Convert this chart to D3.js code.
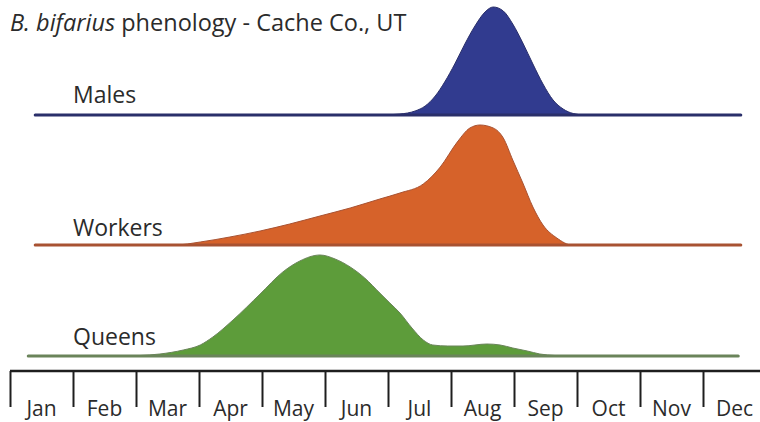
<!DOCTYPE html>
<html>
<head>
<meta charset="utf-8">
<script src="https://cdn.jsdelivr.net/npm/d3@7"></script>
<style>
  html, body { margin: 0; padding: 0; background: #fff; }
  svg { display: block; }
  text { font-family: "Open Sans", "Noto Sans", sans-serif; fill: #2b2b2b; }
</style>
</head>
<body>
<svg id="chart" width="760" height="422"></svg>
<script>
// Month labels along the bottom axis
const months = ["Jan", "Feb", "Mar", "Apr", "May", "Jun", "Jul", "Aug", "Sep", "Oct", "Nov", "Dec"];

// Caste names, top to bottom
const castes = ["Males", "Workers", "Queens"];

// Activity curves: time in months since 1 Jan, relative abundance
const malesMonth   = [0.40, 5.87, 6.19, 6.43, 6.59, 6.75, 6.90, 7.06, 7.22, 7.38, 7.54, 7.67, 7.83, 7.98, 8.14, 8.30, 8.46, 8.62, 8.78, 8.94, 9.13, 11.60];
const malesValue   = [0,    0,    1,    4,    9,    19,   33,   51,   71,   89,   103,  108,  104,  91,   72,   51,   31,   15,   6,    1.5,  0,    0];

const workersMonth = [0.40, 2.62, 3.02, 3.49, 3.97, 4.44, 4.92, 5.40, 5.87, 6.19, 6.56, 6.83, 7.10, 7.30, 7.46, 7.67, 7.83, 7.98, 8.14, 8.30, 8.46, 8.68, 8.92, 11.60];
const workersValue = [0,    0,    3,    8,    14,   21,   29,   37,   46,   52,   61,   78,   103,  117,  120,  117,  107,  85,   62,   38,   20,   7,    0,    0];

const queensMonth  = [0.29, 1.75, 2.06, 2.38, 2.75, 3.02, 3.22, 3.54, 3.97, 4.33, 4.60, 4.92, 5.16, 5.40, 5.63, 5.87, 6.03, 6.19, 6.38, 6.56, 6.71, 6.95, 7.19, 7.57, 7.78, 7.98, 8.21, 8.41, 8.65, 8.84, 11.56];
const queensValue  = [0,    0,    0.5,  2,    6,    11,   19,   36,   62,   84,   95,   101,  97,   89,   78,   63,   53,   43,   28,   16,   11,   10,   10,   12,   11,   8,    5,    2,    0.5,  0,    0];

const series = [
  { name: castes[0], months: malesMonth,   values: malesValue,   fill: "#313b8f", edge: "#2a2f6a", base: 115, labelY: 103 },
  { name: castes[1], months: workersMonth, values: workersValue, fill: "#d6622a", edge: "#a85232", base: 245, labelY: 236 },
  { name: castes[2], months: queensMonth,  values: queensValue,  fill: "#5d9c3a", edge: "#6a845a", base: 356, labelY: 345 }
];

const svg = d3.select("#chart");

// Shared time scale: one month per 63 px starting at the Jan tick
const x = d3.scaleLinear().domain([0, 12]).range([10, 766]);
// Abundance scale (height above each ridge baseline)
const h = d3.scaleLinear().domain([0, 120]).range([0, 120]);

// Title with italic species name
const title = svg.append("text").attr("x", 10).attr("y", 31).style("font-size", "23.5px");
title.append("tspan").style("font-style", "italic").text("B. bifarius");
title.append("tspan").text(" phenology - Cache Co., UT");

// Ridges
series.forEach(s => {
  const pts = s.months.map((m, i) => [m, s.values[i]]);
  const g = svg.append("g");

  const area = d3.area()
    .x(d => x(d[0]))
    .y0(s.base)
    .y1(d => s.base - h(d[1]))
    .curve(d3.curveMonotoneX);

  const topLine = d3.line()
    .x(d => x(d[0]))
    .y(d => s.base - h(d[1]))
    .curve(d3.curveMonotoneX);

  g.append("path")
    .datum(pts)
    .attr("d", area)
    .attr("fill", s.fill);

  g.append("path")
    .datum(pts)
    .attr("d", topLine)
    .attr("fill", "none")
    .attr("stroke", s.edge)
    .attr("stroke-width", 1);

  // Baseline under each ridge
  g.append("line")
    .attr("x1", x(s.months[0]))
    .attr("x2", x(s.months[s.months.length - 1]))
    .attr("y1", s.base)
    .attr("y2", s.base)
    .attr("stroke", s.edge)
    .attr("stroke-width", 3)
    .attr("stroke-linecap", "round");

  // Caste label
  g.append("text")
    .attr("x", 73)
    .attr("y", s.labelY)
    .style("font-size", "23px")
    .text(s.name);
});

// Month boundary ticks
const axisY = 371;
const boundaryAxis = d3.axisBottom(x)
  .tickValues(d3.range(0, 13))
  .tickSize(36)
  .tickSizeOuter(0)
  .tickFormat("");

const axG = svg.append("g")
  .attr("transform", `translate(0,${axisY})`)
  .call(boundaryAxis);
axG.select(".domain")
  .attr("d", `M${x(0)},0H760`)
  .attr("stroke", "#1e1e1e")
  .attr("stroke-width", 2.5);
axG.selectAll(".tick line")
  .attr("stroke", "#1e1e1e")
  .attr("stroke-width", 2);

// Month names centred within each month
const band = d3.scaleBand().domain(months).range([x(0), x(12)]);
const labelAxis = d3.axisBottom(band).tickSize(0).tickPadding(0);
const lbG = svg.append("g")
  .attr("transform", `translate(0,${axisY})`)
  .call(labelAxis);
lbG.select(".domain").remove();
lbG.selectAll(".tick text")
  .attr("y", 45)
  .attr("dy", 0)
  .style("font-size", "21px")
  .style("font-family", "'Open Sans', sans-serif")
  .attr("fill", "#2b2b2b");
</script>
</body>
</html>
